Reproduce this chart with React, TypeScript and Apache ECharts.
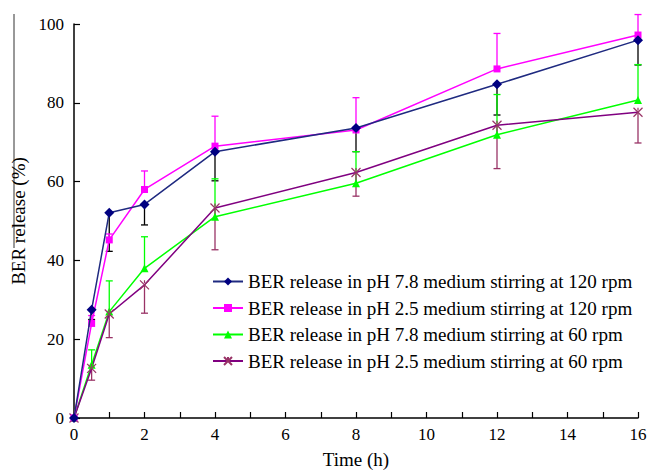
import React, { useEffect, useRef } from "react";
import * as echarts from "echarts";

const times = [0, 0.5, 1, 2, 4, 8, 12, 16];
const seriesNames = [
  "BER release in pH 7.8 medium stirring at 120 rpm",
  "BER release in pH 2.5 medium stirring at 120 rpm",
  "BER release in pH 7.8 medium stirring at 60 rpm",
  "BER release in pH 2.5 medium stirring at 60 rpm",
];
const ph78rpm120 = [0, 27.5, 52.1, 54.2, 67.6, 73.6, 84.7, 95.9];
const ph25rpm120 = [0, 24, 45.2, 58.0, 69.0, 73.1, 88.6, 97.2];
const ph78rpm60 = [0, 13.5, 27, 38.0, 51.1, 59.6, 71.9, 80.7];
const ph25rpm60 = [0, 12.6, 26.4, 33.8, 53.3, 62.3, 74.3, 77.6];
// error bars: navy minus, magenta plus, green plus, purple minus
const err78rpm120 = [0, 2.5, 9.8, 5.2, 7.4, 6, 7.8, 6.3];
const err25rpm120 = [0, 2, 1.5, 4.7, 7.6, 8.2, 9, 5.2];
const err78rpm60 = [0, 3.8, 7.8, 8, 9.6, 8, 10.2, 9];
const err25rpm60 = [0, 3, 6, 7.2, 10.6, 6, 11, 7.8];
const xTicks = { min: 0, max: 16, interval: 2 };
const yTicks = { min: 0, max: 100, interval: 20 };

const FONT = "'Liberation Serif', 'Times New Roman', serif";

export default function App() {
  const ref = useRef<HTMLDivElement>(null);
  useEffect(() => {
    if (!ref.current) return;
    const chart = echarts.init(ref.current, null, { renderer: "svg" });
    const lineData = (vals: number[]) => times.map((t, i) => [t, vals[i]]);
    const errData = (vals: number[], errs: number[], sign: number) =>
      times.map((t, i) => [t, vals[i], vals[i] + sign * errs[i]]);
    const errSeries = (data: number[][], color: string) => ({
      type: "custom",
      silent: true,
      z: 1,
      data,
      encode: { x: 0, y: [1, 2] },
      renderItem: (params: any, api: any) => {
        const x = api.value(0);
        const p0 = api.coord([x, api.value(1)]);
        const p1 = api.coord([x, api.value(2)]);
        if (Math.abs(p0[1] - p1[1]) < 0.5) return { type: "group", children: [] };
        const style = { stroke: color, lineWidth: 1.3 };
        return {
          type: "group",
          children: [
            { type: "line", shape: { x1: p0[0], y1: p0[1], x2: p1[0], y2: p1[1] }, style },
            { type: "line", shape: { x1: p1[0] - 3.5, y1: p1[1], x2: p1[0] + 3.5, y2: p1[1] }, style },
          ],
        };
      },
    });
    const crossPath = "path://M0,0L10,10M10,0L0,10M5,0L5,3";
    chart.setOption({
      animation: false,
      backgroundColor: "#ffffff",
      grid: { left: 74, right: 12, top: 24, bottom: 52, containLabel: false, outerBoundsMode: "none" },
      legend: {
        orient: "vertical",
        left: 207,
        top: 267,
        itemWidth: 30,
        itemHeight: 10,
        itemGap: 7.5,
        data: seriesNames,
        textStyle: { fontFamily: FONT, fontSize: 19, color: "#000" },
      },
      xAxis: {
        type: "value", min: xTicks.min, max: xTicks.max, interval: xTicks.interval,
        name: "Time (h)", nameLocation: "middle", nameGap: 32,
        nameTextStyle: { fontFamily: FONT, fontSize: 19, color: "#000" },
        axisLine: { lineStyle: { color: "#000", width: 1.5 } },
        axisTick: { inside: true, length: 6, lineStyle: { color: "#000", width: 1.2 } },
        minorTick: { show: true, splitNumber: 2, length: 6, lineStyle: { color: "#000", width: 1.2 } },
        axisLabel: { fontFamily: FONT, fontSize: 17, color: "#000", margin: 8 },
        splitLine: { show: false },
      },
      yAxis: {
        type: "value", min: yTicks.min, max: yTicks.max, interval: yTicks.interval,
        name: "BER release (%)", nameLocation: "middle", nameGap: 38,
        nameTextStyle: { fontFamily: FONT, fontSize: 19, color: "#000" },
        axisLine: { show: true, lineStyle: { color: "#000", width: 1.5 } },
        axisTick: { show: true, inside: true, length: 6, lineStyle: { color: "#000", width: 1.2 } },
        axisLabel: { fontFamily: FONT, fontSize: 17, color: "#000", margin: 10 },
        splitLine: { show: false },
      },
      graphic: [
        { type: "line", shape: { x1: 14, y1: 14, x2: 14, y2: 248 }, style: { stroke: "#333", lineWidth: 1 } },
      ],
      series: [
        errSeries(errData(ph78rpm120, err78rpm120, -1), "#000000"),
        errSeries(errData(ph25rpm120, err25rpm120, 1), "#ff00ff"),
        errSeries(errData(ph78rpm60, err78rpm60, 1), "#00ff00"),
        errSeries(errData(ph25rpm60, err25rpm60, -1), "#993366"),
        { name: seriesNames[0], type: "line", z: 5, data: lineData(ph78rpm120), symbol: "diamond", symbolSize: 10, lineStyle: { color: "#1f2a80", width: 1.5 }, itemStyle: { color: "#000080" } },
        { name: seriesNames[1], type: "line", z: 4, data: lineData(ph25rpm120), symbol: "rect", symbolSize: 7, lineStyle: { color: "#ff00ff", width: 1.5 }, itemStyle: { color: "#ff00ff" } },
        { name: seriesNames[2], type: "line", z: 3, data: lineData(ph78rpm60), symbol: "triangle", symbolSize: 8, lineStyle: { color: "#00ff00", width: 1.5 }, itemStyle: { color: "#00ff00" } },
        { name: seriesNames[3], type: "line", z: 3, data: lineData(ph25rpm60), symbol: crossPath, symbolSize: 9, lineStyle: { color: "#800080", width: 1.5 }, itemStyle: { color: "rgba(0,0,0,0)", borderColor: "#993366", borderWidth: 1.2 } },
      ],
    });
    return () => chart.dispose();
  }, []);
  return <div ref={ref} style={{ position: "absolute", left: 0, top: 0, width: 650, height: 470 }} />;
}
